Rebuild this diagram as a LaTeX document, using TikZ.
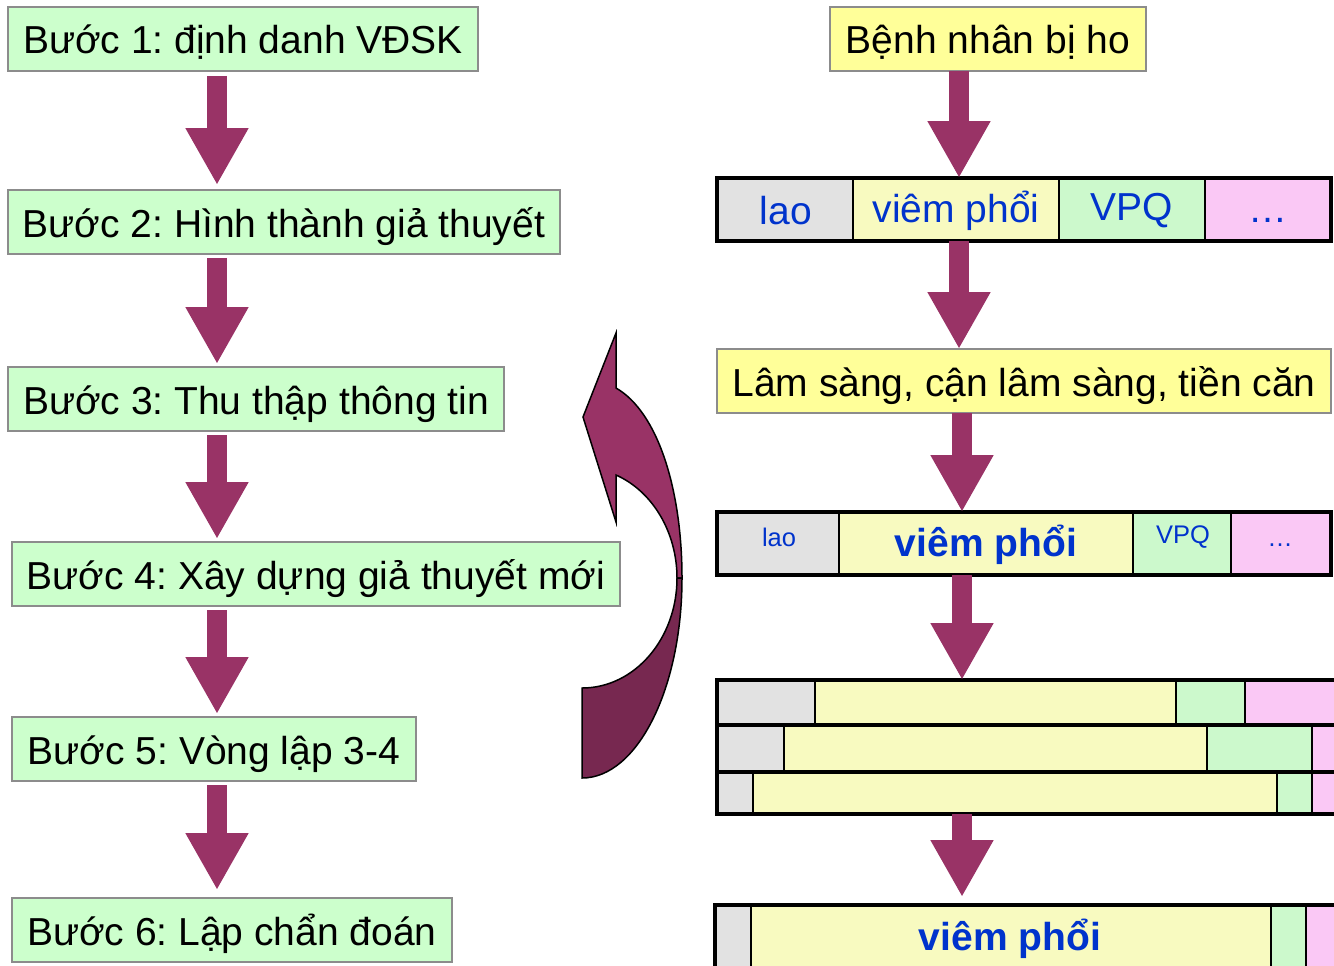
\documentclass[tikz,border=0pt]{standalone}
\usepackage{fontspec}
\setmainfont{Liberation Sans}
\usetikzlibrary{arrows.meta,calc}
\definecolor{boxgreen}{HTML}{CCFFCC}
\definecolor{boxyellow}{HTML}{FFFF99}
\definecolor{boxborder}{HTML}{8C8C8C}
\definecolor{cgray}{HTML}{E2E2E2}
\definecolor{cyellow}{HTML}{F8FAC0}
\definecolor{cgreen}{HTML}{CCF9CC}
\definecolor{cpink}{HTML}{FAC8F5}
\definecolor{arrowc}{HTML}{993366}
\definecolor{arrowdark}{HTML}{772850}
\definecolor{textblue}{HTML}{0033CC}
\newcommand\fbig{\fontsize{22.2}{26}\selectfont}
\newcommand\fsml{\fontsize{14.5}{17}\selectfont}
\frenchspacing
\begin{document}
\frenchspacing
\begin{tikzpicture}[x=0.02cm,y=-0.02cm,
  every node/.style={outer sep=0pt},
  lbox/.style={draw=boxborder, line width=0.04cm, fill=boxgreen, minimum height=1.28cm, inner sep=0pt, text height=0.8cm, text depth=0.2cm, anchor=north west, font=\fbig},
  ybox/.style={lbox, fill=boxyellow},
  blk/.style={line width=0.4cm, draw=arrowc, -{Triangle[width=1.18cm,length=1.14cm]}},
  bar/.style={draw=black, line width=0.09cm, inner sep=0pt, anchor=north west},
  cell/.style={draw=black, line width=0.035cm},
  ctext/.style={text=textblue, font=\fbig, inner sep=0pt},
  btext/.style={text=textblue, font=\fbig\bfseries, inner sep=0pt},
  stext/.style={text=textblue, font=\fsml, inner sep=0pt},
  curv/.style={draw=black, line width=0.03cm}
]
\useasboundingbox (0,0) rectangle (1334,965);
\clip (0,0) rectangle (1334,965);

% ---------- left column ----------
\node[lbox, minimum width=9.4cm]  (b1) at (8,7)   {Bước 1: định danh VĐSK};
\node[lbox, minimum width=11.04cm] (b2) at (8,190) {Bước 2: Hình thành giả thuyết};
\node[lbox, minimum width=9.92cm] (b3) at (8,367) {Bước 3: Thu thập thông tin};
\node[lbox, minimum width=12.16cm] (b4) at (12,542) {Bước 4: Xây dựng giả thuyết mới};
\node[lbox, minimum width=8.08cm] (b5) at (12,717) {Bước 5: Vòng lập 3-4};
\node[lbox, minimum width=8.8cm]  (b6) at (12,898) {Bước 6: Lập chẩn đoán};

\coordinate (ax) at (217,0);
\draw[blk, shorten <=0.1cm, shorten >=0.1cm] (b1.south -| ax) -- (b2.north -| ax);
\draw[blk, shorten <=0.08cm, shorten >=0.06cm] (b2.south -| ax) -- (b3.north -| ax);
\draw[blk, shorten <=0.08cm, shorten >=0.06cm] (b3.south -| ax) -- (b4.north -| ax);
\draw[blk, shorten <=0.08cm, shorten >=0.06cm] (b4.south -| ax) -- (b5.north -| ax);
\draw[blk, shorten <=0.08cm, shorten >=0.16cm] (b5.south -| ax) -- (b6.north -| ax);

% ---------- curved arrow ----------
\filldraw[curv, fill=arrowc] (616,388) .. controls (658,412) and (682,490) .. (682,578)
  -- (677,578) .. controls (677,532.5) and (652.7,491.3) .. (616,475)
  -- (616,522) -- (583,417) -- (616,333) -- cycle;
\filldraw[curv, fill=arrowdark] (682,578) .. controls (682,688.5) and (637.2,778) .. (582,778)
  -- (582,688) .. controls (634.5,688) and (677,638.8) .. (677,578) -- cycle;

% ---------- right column ----------
\node[ybox, minimum width=6.32cm] (r0) at (830,7) {Bệnh nhân bị ho};

% bar 1
\filldraw[cell, fill=cgray]   (717,178) rectangle (853,241);
\filldraw[cell, fill=cyellow] (853,178) rectangle (1059,241);
\filldraw[cell, fill=cgreen]  (1059,178) rectangle (1205,241);
\filldraw[cell, fill=cpink]   (1205,178) rectangle (1331,241);
\node[bar, minimum width=12.28cm, minimum height=1.26cm] (bar1) at (717,178) {};
\node[ctext] (t1a) at (786,211) {lao};
\node[ctext] (t1b) at (956,211) {viêm phổi};
\node[ctext] (t1c) at (1132,211) {VPQ};
\node[ctext] (t1d) at (1268,220) {…};

\node[ybox, minimum width=12.28cm] (ls) at (717,349) {Lâm sàng, cận lâm sàng, tiền căn};

% bar 2
\filldraw[cell, fill=cgray]   (717,512) rectangle (839,575);
\filldraw[cell, fill=cyellow] (839,512) rectangle (1133,575);
\filldraw[cell, fill=cgreen]  (1133,512) rectangle (1231,575);
\filldraw[cell, fill=cpink]   (1231,512) rectangle (1331,575);
\node[bar, minimum width=12.28cm, minimum height=1.26cm] (bar2) at (717,512) {};
\node[stext] (t2a) at (779,537) {lao};
\node[btext] (t2b) at (986,545) {viêm phổi};
\node[stext] (t2c) at (1183,537) {VPQ};
\node[stext] (t2d) at (1280,545) {…};

% bar 3 (three rows)
\filldraw[cell, fill=cgray]   (717,680) rectangle (815,725);
\filldraw[cell, fill=cyellow] (815,680) rectangle (1176,725);
\filldraw[cell, fill=cgreen]  (1176,680) rectangle (1245,725);
\filldraw[cell, fill=cpink]   (1245,680) rectangle (1400,725);
\filldraw[cell, fill=cgray]   (717,725) rectangle (784,772);
\filldraw[cell, fill=cyellow] (784,725) rectangle (1207,772);
\filldraw[cell, fill=cgreen]  (1207,725) rectangle (1312,772);
\filldraw[cell, fill=cpink]   (1312,725) rectangle (1400,772);
\filldraw[cell, fill=cgray]   (717,772) rectangle (753,814);
\filldraw[cell, fill=cyellow] (753,772) rectangle (1277,814);
\filldraw[cell, fill=cgreen]  (1277,772) rectangle (1312,814);
\filldraw[cell, fill=cpink]   (1312,772) rectangle (1400,814);
\node[bar, minimum width=13.66cm, minimum height=0.9cm]  (bar3a) at (717,680) {};
\node[bar, minimum width=13.66cm, minimum height=0.94cm] (bar3b) at (717,725) {};
\node[bar, minimum width=13.66cm, minimum height=0.84cm] (bar3c) at (717,772) {};

% bar 4
\filldraw[cell, fill=cgray]   (715,905) rectangle (751,1000);
\filldraw[cell, fill=cyellow] (751,905) rectangle (1271,1000);
\filldraw[cell, fill=cgreen]  (1271,905) rectangle (1306,1000);
\filldraw[cell, fill=cpink]   (1306,905) rectangle (1400,1000);
\node[bar, minimum width=13.7cm, minimum height=1.9cm] (bar4) at (715,905) {};
\node[btext] (t4) at (1010,939) {viêm phổi};

% right arrows
\coordinate (rx) at (959,0);
\coordinate (rx2) at (962,0);
\draw[blk] (r0.south -| rx) -- (bar1.north -| rx);
\draw[blk] (bar1.south -| rx) -- (ls.north -| rx);
\draw[blk] (ls.south -| rx2) -- (bar2.north -| rx2);
\draw[blk] (bar2.south -| rx2) -- (bar3a.north -| rx2);
\draw[blk, shorten >=0.16cm] (bar3c.south -| rx2) -- (bar4.north -| rx2);
\end{tikzpicture}
\end{document}
